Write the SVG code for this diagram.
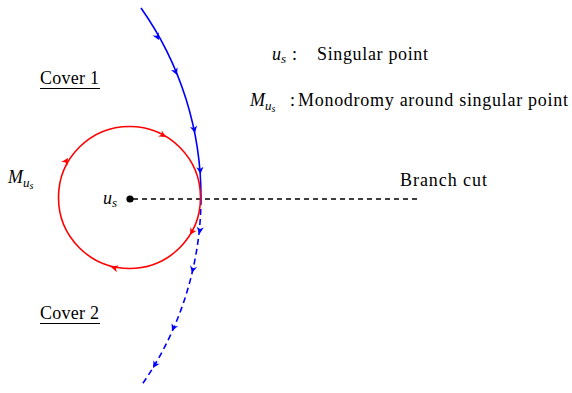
<svg xmlns="http://www.w3.org/2000/svg" width="572" height="393" viewBox="0 0 572 393">
<style>
text{font-family:"Liberation Serif","Times New Roman",serif;font-size:18px;fill:#000}
.m{font-style:italic}
.sub{font-size:13px;font-style:italic}
.sub2{font-size:10px;font-style:italic}
.blue{fill:none;stroke:#0000ff;stroke-width:1.6}
.red{fill:none;stroke:#ff0000;stroke-width:1.6}
.ab{fill:#0000ff}
.ar{fill:#ff0000}
</style>
<defs>
<path id="ah" d="M0,0 L-7,-3.6 L-5,0 L-7,3.6 Z"/>
</defs>
<rect width="572" height="393" fill="#fff"/>
<g id="connectors">
<line id="branch-cut" x1="133" y1="199" x2="421" y2="199" stroke="#000" stroke-width="1.3" stroke-dasharray="5,4"/>
<path id="path-cover1" class="blue" d="M141,8 A327.7,327.7 0 0,1 201,199"/>
<path id="path-cover2" class="blue" stroke-dasharray="6,4" d="M201,199 A327.7,327.7 0 0,1 141,386"/>
<circle id="monodromy" class="red" cx="129.5" cy="197.5" r="71"/>
<g class="ab">
<use href="#ah" transform="translate(159,40) rotate(61)"/>
<use href="#ah" transform="translate(177,75) rotate(67)"/>
<use href="#ah" transform="translate(195,133) rotate(78)"/>
<use href="#ah" transform="translate(200.5,174) rotate(85)"/>
<use href="#ah" transform="translate(199.5,234) rotate(96)"/>
<use href="#ah" transform="translate(192,273) rotate(103)"/>
<use href="#ah" transform="translate(172,331) rotate(114)"/>
<use href="#ah" transform="translate(153,368) rotate(121)"/>
</g>
<g class="ar">
<use href="#ah" transform="translate(166,137) rotate(30)"/>
<use href="#ah" transform="translate(68,158) rotate(-58)"/>
<use href="#ah" transform="translate(190,235) rotate(120)"/>
<use href="#ah" transform="translate(111,267) rotate(194)"/>
</g>
</g>
<g id="singular-point">
<circle cx="130" cy="199" r="3.6" fill="#000"/>
<text x="103" y="204" class="m">u<tspan class="sub" dy="3">s</tspan></text>
</g>
<g id="label-M">
<text x="8" y="183" class="m">M<tspan class="sub" dy="4">u</tspan><tspan class="sub2" dy="2">s</tspan></text>
</g>
<g id="cover1">
<text x="40" y="84" textLength="59">Cover 1</text>
<line x1="40" y1="88.5" x2="100" y2="88.5" stroke="#000" stroke-width="1"/>
</g>
<g id="cover2">
<text x="40" y="319" textLength="59">Cover 2</text>
<line x1="40" y1="323.5" x2="100" y2="323.5" stroke="#000" stroke-width="1"/>
</g>
<g id="branch-label">
<text x="400" y="186" textLength="87">Branch cut</text>
</g>
<g id="legend">
<text x="272" y="60" class="m">u<tspan class="sub" dy="3">s</tspan></text>
<text x="292" y="60">:</text>
<text x="317" y="60" textLength="111">Singular point</text>
<text x="250" y="106" class="m">M<tspan class="sub" dy="4">u</tspan><tspan class="sub2" dy="2">s</tspan></text>
<text x="290" y="106">:</text>
<text x="298" y="106" textLength="270">Monodromy around singular point</text>
</g>
</svg>
